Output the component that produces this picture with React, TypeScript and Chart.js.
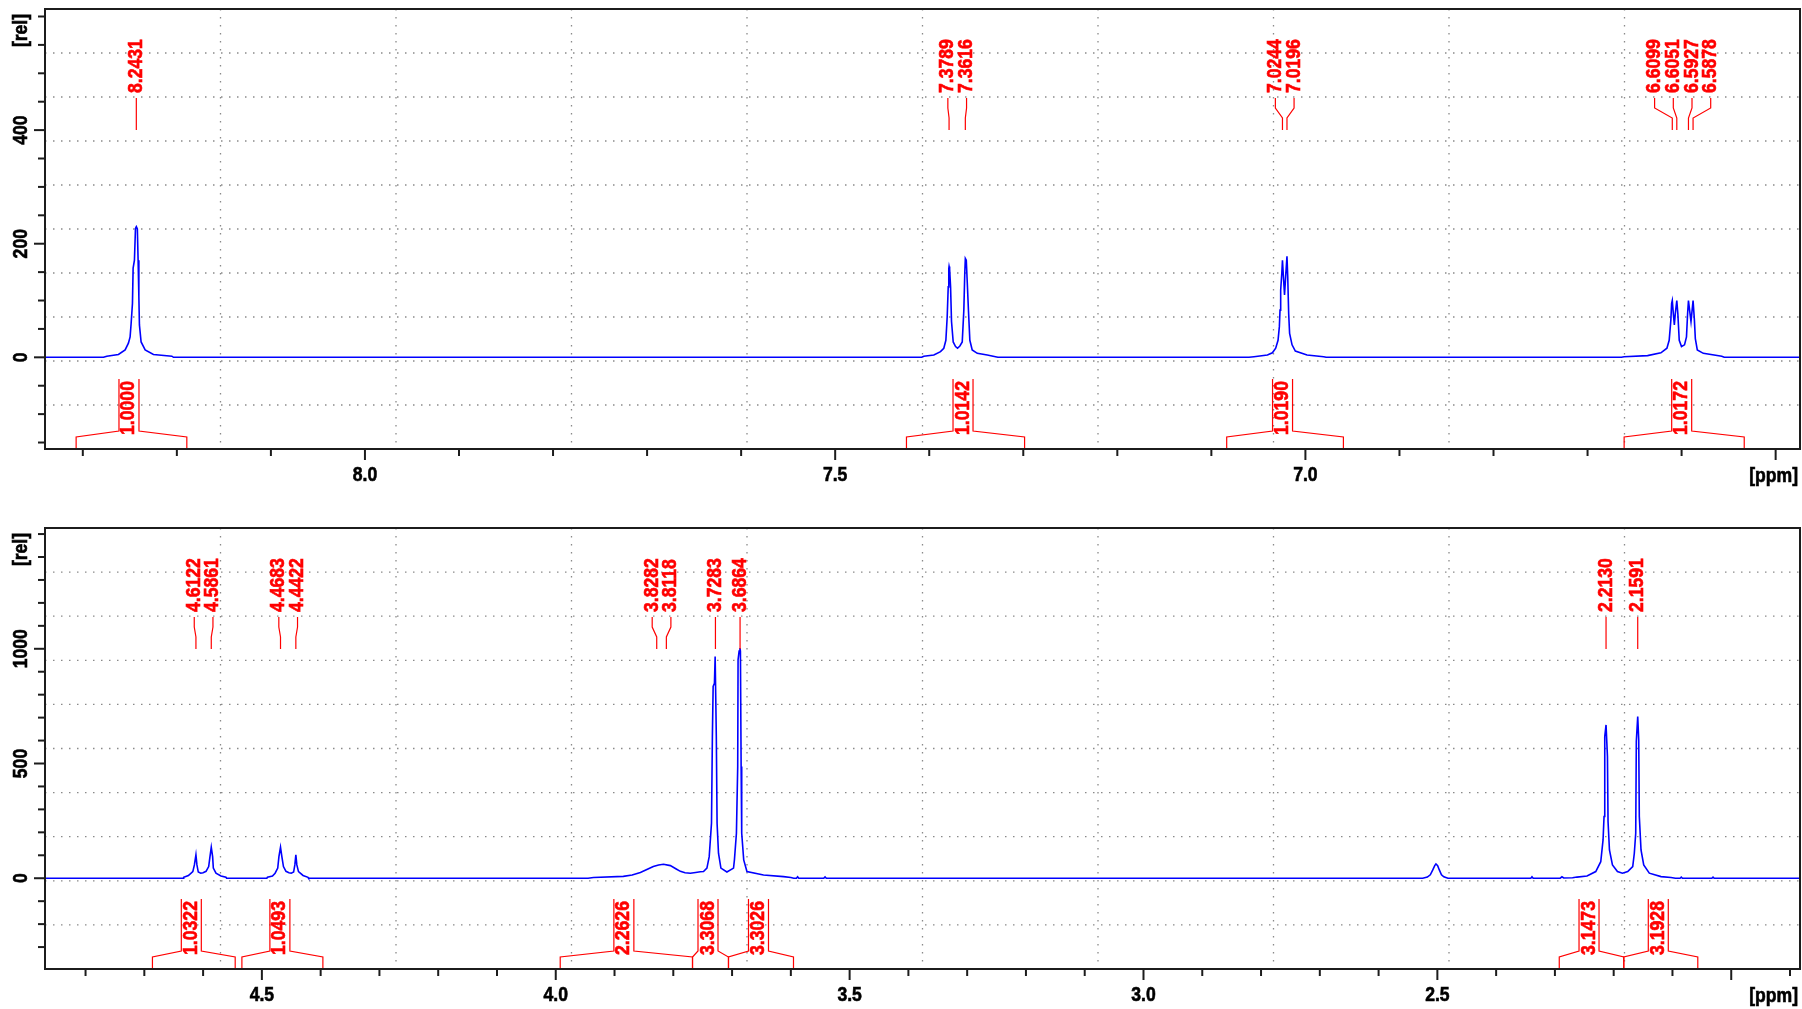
import React, { useEffect, useRef } from 'react';
import { Chart, registerables } from 'chart.js';

Chart.register(...registerables);

type Pt = [number, number];

// ---------------- axis ranges ----------------
const topPpmRange: Pt = [8.3402, 6.4741];
const topRelRange: Pt = [-161.4, 613.2];
const bottomPpmRange: Pt = [4.869, 1.883];
const bottomRelRange: Pt = [-395.6, 1526.4];

// ---------------- tick labels ----------------
const topXTickLabels = ['8.0', '7.5', '7.0'];
const bottomXTickLabels = ['4.5', '4.0', '3.5', '3.0', '2.5'];
const topYTickLabels = ['0', '200', '400'];
const bottomYTickLabels = ['0', '500', '1000'];
const topYMinorStep = 50;
const bottomYMinorStep = 100;
const xMinorStep = 0.1;
const xMajorStep = 0.5;

// ---------------- spectrum, top panel (ppm, rel) ----------------
const signal8_24: Pt[] = [
  [8.2780, 0], [8.2745, 2], [8.2621, 5], [8.2550, 13], [8.2515, 25], [8.2497, 36], [8.2486, 60],
  [8.2472, 95], [8.2465, 157], [8.2451, 171], [8.2440, 227], [8.2431, 230], [8.2420, 226],
  [8.2412, 171], [8.2404, 107], [8.2398, 57], [8.2380, 27], [8.2337, 13], [8.2249, 5], [8.2053, 2], [8.2036, 0],
];
const signal7_37: Pt[] = [
  [7.4080, 0], [7.4057, 2], [7.3951, 4], [7.3880, 10], [7.3845, 16], [7.3823, 30], [7.3809, 71],
  [7.3798, 124], [7.3792, 156], [7.3789, 160], [7.3783, 155], [7.3773, 124], [7.3763, 63], [7.3745, 27],
  [7.3720, 19], [7.3699, 16], [7.3674, 20], [7.3649, 27], [7.3632, 83], [7.3622, 148], [7.3616, 174],
  [7.3606, 171], [7.3595, 130], [7.3583, 83], [7.3568, 30], [7.3543, 13], [7.3489, 7], [7.3383, 4],
  [7.3295, 1], [7.3270, 0],
];
const signal7_02: Pt[] = [
  [7.0600, 0], [7.0547, 1], [7.0404, 4], [7.0351, 8], [7.0316, 16], [7.0291, 30], [7.0277, 54],
  [7.0270, 83], [7.0263, 118], [7.0251, 148], [7.0244, 171], [7.0236, 148], [7.0222, 110], [7.0210, 142],
  [7.0196, 178], [7.0188, 142], [7.0178, 77], [7.0168, 42], [7.0142, 22], [7.0107, 11], [6.9983, 4],
  [6.9806, 1], [6.9780, 0],
];
const signal6_60: Pt[] = [
  [6.6640, 0], [6.6611, 1], [6.6362, 3], [6.6220, 8], [6.6156, 16], [6.6132, 30], [6.6114, 66],
  [6.6106, 95], [6.6099, 100], [6.6088, 77], [6.6077, 57], [6.6067, 77], [6.6051, 100], [6.6040, 77],
  [6.6025, 30], [6.6001, 19], [6.5969, 22], [6.5948, 36], [6.5936, 77], [6.5927, 100], [6.5915, 83],
  [6.5900, 63], [6.5888, 83], [6.5878, 100], [6.5864, 66], [6.5854, 33], [6.5833, 13], [6.5769, 7],
  [6.5573, 2], [6.5547, 0],
];

// ---------------- spectrum, bottom panel (ppm, rel) ----------------
const signal4_60: Pt[] = [
  [4.6500, 0], [4.6340, 0], [4.6330, 4], [4.6250, 12], [4.6175, 29], [4.6148, 58], [4.6122, 102],
  [4.6105, 58], [4.6082, 27], [4.6040, 22], [4.6000, 24], [4.5950, 30], [4.5905, 51], [4.5883, 94],
  [4.5861, 135], [4.5838, 94], [4.5826, 44], [4.5781, 22], [4.5696, 10], [4.5611, 4], [4.5600, 0],
];
const signal4_46: Pt[] = [
  [4.5050, 0], [4.4915, 0], [4.4905, 4], [4.4820, 10], [4.4775, 22], [4.4730, 44], [4.4710, 94],
  [4.4683, 135], [4.4660, 94], [4.4633, 51], [4.4590, 30], [4.4540, 24], [4.4500, 22], [4.4460, 27],
  [4.4439, 58], [4.4422, 102], [4.4405, 58], [4.4377, 29], [4.4300, 12], [4.4215, 4], [4.4205, 0],
];
const signal3_75: Pt[] = [
  [3.9450, 0], [3.9358, 3], [3.8850, 8], [3.8700, 14], [3.8560, 25], [3.8450, 38], [3.8340, 51],
  [3.8250, 58], [3.8167, 61], [3.8050, 55], [3.7950, 40], [3.7880, 30], [3.7800, 24], [3.7710, 22],
  [3.7620, 25], [3.7540, 28], [3.7486, 29], [3.7428, 44], [3.7389, 94], [3.7350, 240], [3.7335, 617],
  [3.7322, 836], [3.7300, 850], [3.7288, 966], [3.7280, 966], [3.7268, 617], [3.7255, 240],
  [3.7231, 109], [3.7190, 44], [3.7088, 27], [3.6975, 44], [3.6960, 80], [3.6926, 196], [3.6904, 487],
  [3.6898, 952], [3.6880, 990], [3.6866, 1003], [3.6858, 990], [3.6846, 487], [3.6836, 196],
  [3.6802, 80], [3.6747, 29], [3.6465, 14], [3.6125, 7], [3.6000, 3], [3.5950, 0],
  [3.5905, 0], [3.5885, 6], [3.5865, 0], [3.5440, 0], [3.5418, 6], [3.5396, 0],
];
const signal2_50: Pt[] = [
  [2.5250, 0], [2.5170, 5], [2.5120, 15], [2.5080, 35], [2.5045, 55], [2.5024, 62], [2.4995, 55],
  [2.4965, 35], [2.4930, 15], [2.4890, 6], [2.4820, 0],
  [2.3410, 0], [2.3390, 6], [2.3370, 0],
];
const signal2_19: Pt[] = [
  [2.2910, 0], [2.2880, 6], [2.2850, 1], [2.2700, 2], [2.2624, 5], [2.2454, 10], [2.2305, 29],
  [2.2220, 72], [2.2181, 167], [2.2164, 269], [2.2152, 617], [2.2130, 668], [2.2106, 530],
  [2.2096, 247], [2.2072, 123], [2.2021, 58], [2.1936, 29], [2.1851, 22], [2.1761, 29], [2.1676, 51],
  [2.1649, 109], [2.1625, 196], [2.1615, 596], [2.1591, 705], [2.1574, 603], [2.1564, 269],
  [2.1535, 123], [2.1489, 58], [2.1394, 22], [2.1195, 7], [2.1025, 3], [2.0950, 0],
  [2.0870, 0], [2.0850, 5], [2.0830, 0], [2.0330, 0], [2.0310, 5], [2.0290, 0],
];

// ---------------- peak picking labels ----------------
const topPeakLabels = [8.2431, 7.3789, 7.3616, 7.0244, 7.0196, 6.6099, 6.6051, 6.5927, 6.5878];
const bottomPeakLabels = [4.6122, 4.5861, 4.4683, 4.4422, 3.8282, 3.8118, 3.7283, 3.6864, 2.2130, 2.1591];

// ---------------- integrals ----------------
const topIntegralFrom = [8.3071, 7.4242, 7.0837, 6.6611];
const topIntegralTo = [8.1894, 7.2986, 6.9596, 6.5334];
const topIntegralValues = ['1.0000', '1.0142', '1.0190', '1.0172'];
const bottomIntegralFrom = [4.6862, 4.5340, 3.9924, 3.7673, 3.7061, 2.2926, 2.1828];
const bottomIntegralTo = [4.5454, 4.3962, 3.7673, 3.7061, 3.5955, 2.1828, 2.0569];
const bottomIntegralValues = ['1.0322', '1.0493', '2.2626', '3.3068', '3.3026', '3.1473', '3.1928'];

// ---------------- styling ----------------
const FONT = 'bold 20px "Liberation Sans", Arial, Helvetica, sans-serif';
const CONDENSE = 0.88;
const AXIS_COLOR = '#1c1c1c';
const RED = '#ff0000';
const BLUE = '#0000ff';

interface PanelCfg {
  ppmRange: Pt;
  relRange: Pt;
  signals: Pt[][];
  xTickLabels: string[];
  yTickLabels: string[];
  yMinorStep: number;
  peakLabels: number[];
  integralFrom: number[];
  integralTo: number[];
  integralValues: string[];
  padding: { left: number; top: number; right: number; bottom: number };
  height: number;
  offsetTop: number;
}

function drawText(
  ctx: CanvasRenderingContext2D, s: string, x: number, y: number, rot: number,
  align: CanvasTextAlign, color: string,
) {
  ctx.save();
  ctx.translate(x, y);
  ctx.rotate(rot);
  ctx.scale(CONDENSE, 1);
  ctx.font = FONT;
  ctx.fillStyle = color;
  ctx.strokeStyle = color;
  ctx.lineWidth = 0.6;
  ctx.setLineDash([]);
  ctx.textAlign = align;
  ctx.textBaseline = 'middle';
  ctx.fillText(s, 0, 0);
  ctx.strokeText(s, 0, 0);
  ctx.restore();
}

function seg(ctx: CanvasRenderingContext2D, pts: number[][]) {
  ctx.beginPath();
  ctx.moveTo(pts[0][0], pts[0][1]);
  for (let i = 1; i < pts.length; i++) ctx.lineTo(pts[i][0], pts[i][1]);
  ctx.stroke();
}

function decorPlugin(p: PanelCfg) {
  return {
    id: 'nmrDecor',
    beforeDatasetsDraw(chart: any) {
      const { ctx, chartArea: a } = chart;
      ctx.save();
      ctx.strokeStyle = '#8a8a8a';
      ctx.lineWidth = 1.3;
      ctx.setLineDash([1.5, 6.5]);
      for (let k = 1; k < 10; k++) {
        const x = a.left + ((a.right - a.left) * k) / 10;
        seg(ctx, [[x, a.top], [x, a.bottom]]);
        const y = a.top + ((a.bottom - a.top) * k) / 10;
        seg(ctx, [[a.left, y], [a.right, y]]);
      }
      ctx.restore();
    },
    afterDatasetsDraw(chart: any) {
      const { ctx, chartArea: a } = chart;
      const xs = chart.scales.x;
      const ys = chart.scales.y;

      // ---- peak labels
      ctx.save();
      ctx.strokeStyle = RED;
      ctx.lineWidth = 1.2;
      const order = p.peakLabels.map((_, i) => i).sort(
        (i, j) => xs.getPixelForValue(p.peakLabels[i]) - xs.getPixelForValue(p.peakLabels[j]),
      );
      const px = order.map((i) => xs.getPixelForValue(p.peakLabels[i]));
      const MIN = 18.7;
      let clusters = px.map((x, i) => ({ s: i, n: 1, c: x }));
      let merged = true;
      while (merged) {
        merged = false;
        for (let k = 0; k < clusters.length - 1; k++) {
          const A = clusters[k];
          const B = clusters[k + 1];
          const aR = A.c + ((A.n - 1) / 2) * MIN;
          const bL = B.c - ((B.n - 1) / 2) * MIN;
          if (bL - aR < MIN - 1e-6) {
            const n = A.n + B.n;
            let sum = 0;
            for (let t = A.s; t < A.s + n; t++) sum += px[t];
            clusters.splice(k, 2, { s: A.s, n, c: sum / n });
            merged = true;
            break;
          }
        }
      }
      for (const cl of clusters) {
        for (let j = 0; j < cl.n; j++) {
          const t = cl.s + j;
          const lx = cl.c + (j - (cl.n - 1) / 2) * MIN;
          const pk = px[t];
          ctx.strokeStyle = RED;
          ctx.lineWidth = 1.2;
          seg(ctx, [[lx, a.top + 89], [lx, a.top + 99], [pk, a.top + 109], [pk, a.top + 121]]);
          drawText(ctx, p.peakLabels[order[t]].toFixed(4), lx, a.top + 84, -Math.PI / 2, 'left', RED);
        }
      }

      // ---- integrals
      for (let i = 0; i < p.integralFrom.length; i++) {
        const xa = xs.getPixelForValue(p.integralFrom[i]);
        const xb = xs.getPixelForValue(p.integralTo[i]);
        const L = Math.min(xa, xb);
        const R = Math.max(xa, xb);
        const c = (L + R) / 2 - 2.5;
        const b = a.bottom;
        ctx.strokeStyle = RED;
        ctx.lineWidth = 1.2;
        seg(ctx, [[L, b], [L, b - 12], [c - 10, b - 18], [c - 10, b - 70]]);
        seg(ctx, [[c + 10, b - 70], [c + 10, b - 18], [R, b - 12], [R, b]]);
        drawText(ctx, p.integralValues[i], c, b - 41, -Math.PI / 2, 'center', RED);
      }
      ctx.restore();

      // ---- frame and axes
      ctx.save();
      ctx.strokeStyle = AXIS_COLOR;
      ctx.lineWidth = 2;
      ctx.strokeRect(a.left, a.top, a.right - a.left, a.bottom - a.top);

      const lo = Math.min(p.ppmRange[0], p.ppmRange[1]);
      const hi = Math.max(p.ppmRange[0], p.ppmRange[1]);
      for (let i = Math.ceil(lo / xMinorStep - 1e-6); i <= Math.floor(hi / xMinorStep + 1e-6); i++) {
        const v = i * xMinorStep;
        const x = xs.getPixelForValue(v);
        const r = v / xMajorStep;
        const major = Math.abs(r - Math.round(r)) < 1e-6;
        ctx.strokeStyle = AXIS_COLOR;
        ctx.lineWidth = 2;
        seg(ctx, [[x, a.bottom], [x, a.bottom + (major ? 11 : 7)]]);
      }
      for (const lab of p.xTickLabels) {
        drawText(ctx, lab, xs.getPixelForValue(Number(lab)), a.bottom + 26, 0, 'center', '#000');
      }
      drawText(ctx, '[ppm]', a.right - 2, a.bottom + 27, 0, 'right', '#000');

      const ylo = Math.min(p.relRange[0], p.relRange[1]);
      const yhi = Math.max(p.relRange[0], p.relRange[1]);
      const majors = p.yTickLabels.map(Number);
      for (let i = Math.ceil(ylo / p.yMinorStep); i <= Math.floor(yhi / p.yMinorStep); i++) {
        const v = i * p.yMinorStep;
        const y = ys.getPixelForValue(v);
        const major = majors.includes(v);
        ctx.strokeStyle = AXIS_COLOR;
        ctx.lineWidth = 2;
        seg(ctx, [[a.left, y], [a.left - (major ? 11 : 7), y]]);
      }
      for (const lab of p.yTickLabels) {
        drawText(ctx, lab, 21, ys.getPixelForValue(Number(lab)), -Math.PI / 2, 'center', '#000');
      }
      drawText(ctx, '[rel]', 21, a.top + 21.5, -Math.PI / 2, 'center', '#000');
      ctx.restore();
    },
  };
}

function buildSeries(p: PanelCfg) {
  const pts: Pt[] = [[p.ppmRange[0], 0]];
  for (const s of p.signals) for (const q of s) pts.push(q);
  pts.push([p.ppmRange[1], 0]);
  pts.sort((u, v) => v[0] - u[0]);
  return pts.map(([x, y]) => ({ x, y }));
}

function Panel({ cfg }: { cfg: PanelCfg }) {
  const ref = useRef<HTMLCanvasElement | null>(null);
  useEffect(() => {
    if (!ref.current) return;
    const chart = new Chart(ref.current, {
      type: 'line',
      data: {
        datasets: [
          {
            data: buildSeries(cfg),
            borderColor: BLUE,
            borderWidth: 1.6,
            pointRadius: 0,
            tension: 0,
            fill: false,
          },
        ],
      },
      options: {
        animation: false,
        responsive: false,
        devicePixelRatio: 1,
        events: [],
        layout: { padding: cfg.padding },
        plugins: { legend: { display: false }, tooltip: { enabled: false }, title: { display: false } },
        scales: {
          x: {
            type: 'linear',
            min: Math.min(cfg.ppmRange[0], cfg.ppmRange[1]),
            max: Math.max(cfg.ppmRange[0], cfg.ppmRange[1]),
            reverse: true,
            display: false,
          },
          y: {
            type: 'linear',
            min: cfg.relRange[0],
            max: cfg.relRange[1],
            display: false,
          },
        },
      },
      plugins: [decorPlugin(cfg)],
    } as any);
    return () => chart.destroy();
  }, [cfg]);
  return (
    <canvas
      ref={ref}
      width={1802}
      height={cfg.height}
      style={{ position: 'absolute', left: 0, top: cfg.offsetTop, width: 1802, height: cfg.height, display: 'block' }}
    />
  );
}

const topCfg: PanelCfg = {
  ppmRange: topPpmRange,
  relRange: topRelRange,
  signals: [signal8_24, signal7_37, signal7_02, signal6_60],
  xTickLabels: topXTickLabels,
  yTickLabels: topYTickLabels,
  yMinorStep: topYMinorStep,
  peakLabels: topPeakLabels,
  integralFrom: topIntegralFrom,
  integralTo: topIntegralTo,
  integralValues: topIntegralValues,
  padding: { left: 45, top: 9, right: 2, bottom: 51 },
  height: 500,
  offsetTop: 0,
};

const bottomCfg: PanelCfg = {
  ppmRange: bottomPpmRange,
  relRange: bottomRelRange,
  signals: [signal4_60, signal4_46, signal3_75, signal2_50, signal2_19],
  xTickLabels: bottomXTickLabels,
  yTickLabels: bottomYTickLabels,
  yMinorStep: bottomYMinorStep,
  peakLabels: bottomPeakLabels,
  integralFrom: bottomIntegralFrom,
  integralTo: bottomIntegralTo,
  integralValues: bottomIntegralValues,
  padding: { left: 45, top: 28, right: 2, bottom: 40 },
  height: 509,
  offsetTop: 500,
};

export default function App() {
  return (
    <div
      style={{
        position: 'absolute', left: 0, top: 0, width: 1802, height: 1009,
        background: '#ffffff', overflow: 'hidden',
      }}
    >
      <Panel cfg={topCfg} />
      <Panel cfg={bottomCfg} />
    </div>
  );
}
